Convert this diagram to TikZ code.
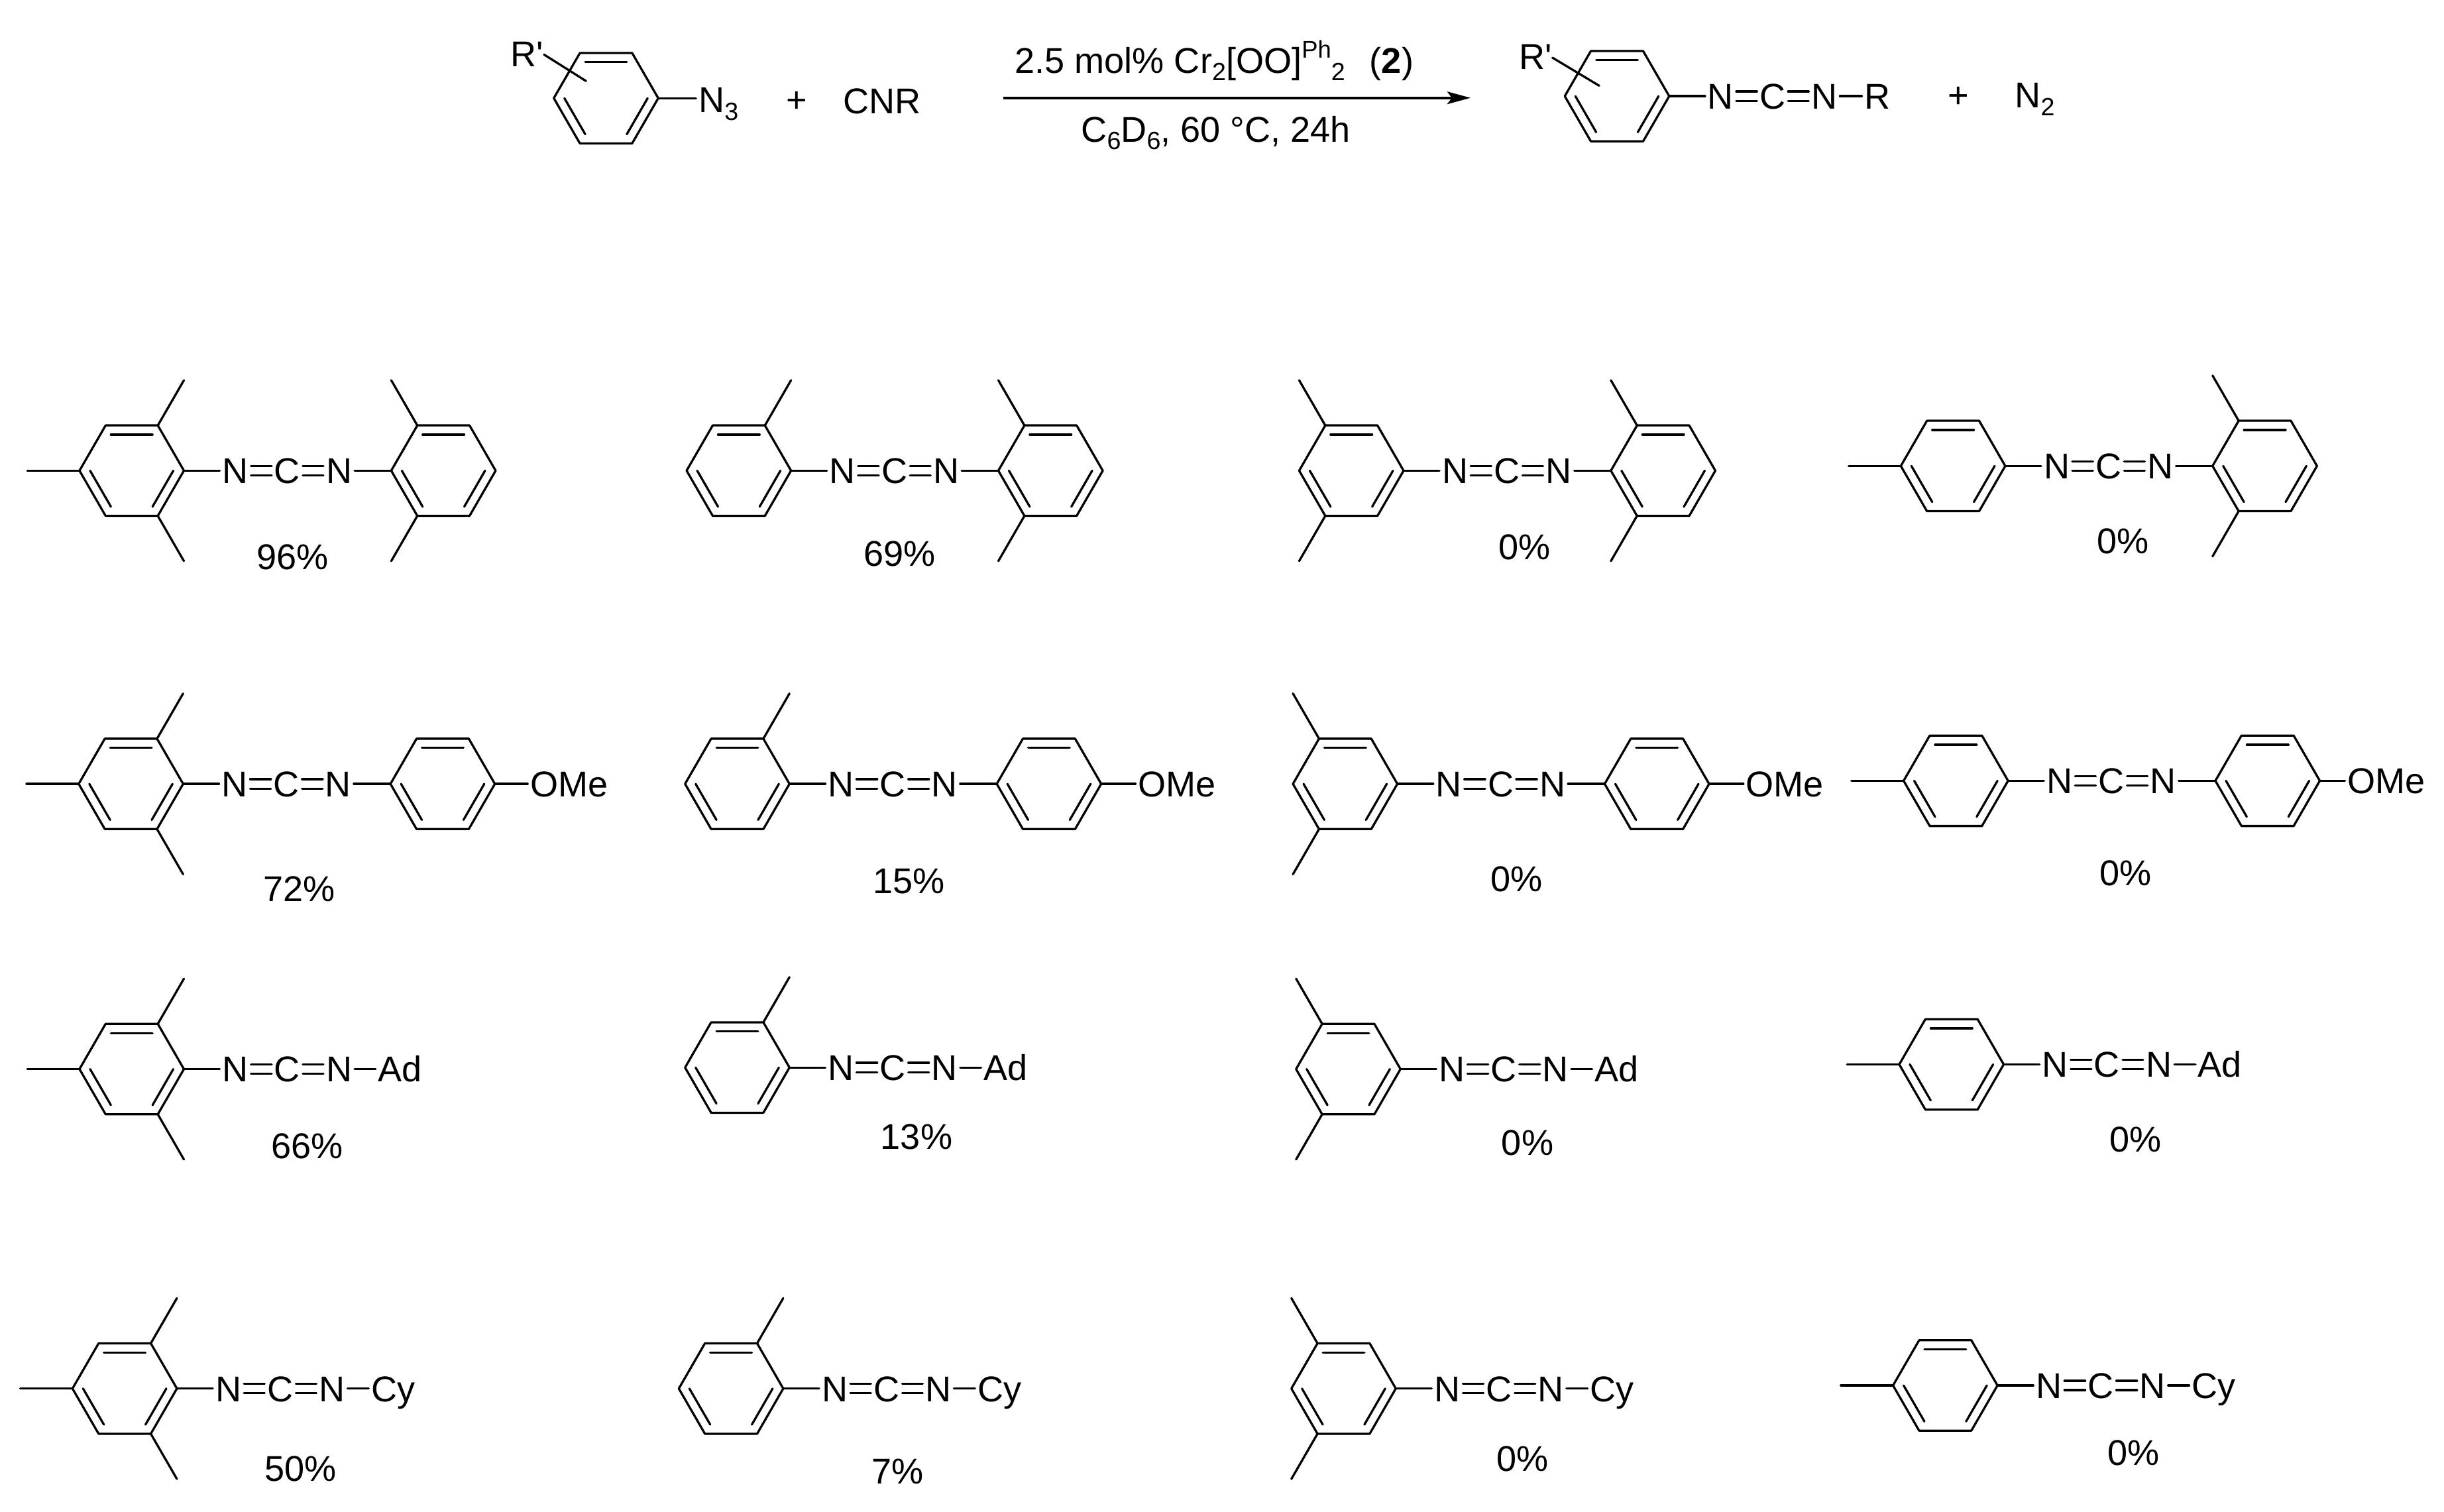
\documentclass[tikz,border=0pt]{standalone}
\usepackage{fontspec}
\setmainfont{Liberation Sans}
\usetikzlibrary{arrows.meta}
\tikzset{bond/.style={line width=1.4pt, line cap=round, line join=round}}
\tikzset{atom/.style={font=\fontsize{23}{27}\selectfont, text height=16.5pt, text depth=0pt, inner sep=1.5pt}}
\newcommand{\low}[1]{\raisebox{-5pt}{\fontsize{16}{16}\selectfont #1}}
\newcommand{\high}[1]{\raisebox{9.5pt}{\fontsize{15.5}{16}\selectfont #1}}
\newcommand{\aryl}[2]{
    \begin{scope}[shift={(#1, #2)}]
        \draw[bond] (0:33.5) -- (60:33.5) -- (120:33.5) -- (180:33.5) -- (240:33.5) -- (300:33.5) -- cycle;
        \draw[bond] (240:26.7) -- (300:26.7);
        \draw[bond] (120:26.7) -- (180:26.7);
        \draw[bond] (0:26.7) -- (60:26.7);
    \end{scope}
}
\newcommand{\methyls}[3]{
    \edef\methylangles{#3}
    \begin{scope}[shift={(#1, #2)}]
        \foreach \angle in \methylangles {
            \draw[bond] (\angle:33.5) -- (\angle:67);
        }
    \end{scope}
}
\newcommand{\linker}[2]{
    \node[atom] (nl) at (#1 + 66.5, #2) {N};
    \node[atom] (cc) at (#1 + 99.8, #2) {C};
    \node[atom] (nr) at (#1 + 133, #2) {N};
    \draw[bond] (#1 + 33.5, #2) -- (nl);
    \foreach \from/\to in {nl/cc, cc/nr} {
        \draw[bond] ([yshift=3pt]\from.east) -- ([yshift=3pt]\to.west);
        \draw[bond] ([yshift=-3pt]\from.east) -- ([yshift=-3pt]\to.west);
    }
}
\begin{document}
\begin{tikzpicture}[x=1pt, y=-1pt]
    \useasboundingbox (0, 0) rectangle (1568, 970.2);
    \aryl{388.8}{63}
    \coordinate (rone) at (388.8 + 33.5, 63);
    \node[atom] (rprime) at (338, 34.5) {R\textquotesingle};
    \draw[bond] (349, 35) -- (376, 52);
    \node[atom, anchor=west] (azide) at (446.5, 64) {N\low{3}};
    \draw[bond] (rone) -- (azide.west |- rone);
    \node[atom] (plusone) at (511, 64) {+};
    \node[atom] (cnr) at (566, 64.5) {CNR};
    \coordinate (arrowstart) at (643.5, 62.8);
    \coordinate (arrowend) at (943.5, 62.8);
    \draw[line width=1.7pt, -{Stealth[length=15pt, width=8pt, inset=3pt]}] (arrowstart) -- (arrowend);
    \node[atom, anchor=base] (catalyst) at (779, 46.8) {2.5 mol\% Cr\low{2}[OO]\high{Ph}\low{2}\ \ \kern3pt(\textbf{2})};
    \node[atom, anchor=base] (solvent) at (780, 91) {C\low{6}D\low{6}, 60 °C, 24h};
    \aryl{1037.4}{61.7}
    \linker{1037.4}{61.7}
    \node[atom] (rprimetwo) at (985, 36) {R\textquotesingle};
    \draw[bond] (996, 37) -- (1026, 55);
    \node[atom] (rr) at (1204.4, 61.7) {R};
    \draw[bond] (nr) -- (rr);
    \node[atom] (plustwo) at (1256.6, 61) {+};
    \node[atom, anchor=west] (dinitrogen) at (1291, 61) {N\low{2}};
    \foreach \x/\y/\me/\yx/\yy/\pct in {84.5/302/{-60,60,180}/187.6/357/96, 474/302/{-60}/577/355/69, 867/302/{-120,120}/978/351/0, 1253/299/{180}/1362/347/0} {
        \aryl{\x}{\y}
        \methyls{\x}{\y}{\me}
        \linker{\x}{\y}
        \aryl{\x + 200}{\y}
        \methyls{\x + 200}{\y}{-120,120}
        \draw[bond] (nr) -- (\x + 166.5, \y);
        \node[atom] (yield) at (\yx, \yy) {\pct\%};
    }
    \foreach \x/\y/\me/\ox/\yx/\yy/\pct in {84/503/{-60,60,180}/338.5/192/570/72, 473/503/{-60}/728.5/583/565/15, 863/503/{-120,120}/1118.5/973/564/0, 1254.8/501/{180}/1504.5/1363.6/560/0} {
        \aryl{\x}{\y}
        \methyls{\x}{\y}{\me}
        \linker{\x}{\y}
        \aryl{\x + 200}{\y}
        \draw[bond] (nr) -- (\x + 166.5, \y);
        \node[atom, anchor=west] (ome) at (\ox, \y) {OMe};
        \draw[bond] (\x + 233.5, \y) -- (ome);
        \node[atom] (yield) at (\yx, \yy) {\pct\%};
    }
    \foreach \x/\y/\me/\yx/\yy/\pct/\group in {84.5/686/{-60,60,180}/197/735/66/Ad, 473/685/{-60}/588/729/13/Ad, 865/686/{-120,120}/980/733/0/Ad, 1252/683/{180}/1370/731/0/Ad, 80/891/{-60,60,180}/193/942/50/Cy, 469/891/{-60}/576/944/7/Cy, 862/891/{-120,120}/977/936/0/Cy, 1248/889/{180}/1369/932/0/Cy} {
        \aryl{\x}{\y}
        \methyls{\x}{\y}{\me}
        \linker{\x}{\y}
        \node[atom, anchor=west] (tail) at (\x + 156.5, \y) {\group};
        \draw[bond] (nr) -- (tail);
        \node[atom] (yield) at (\yx, \yy) {\pct\%};
    }
\end{tikzpicture}
\end{document}
